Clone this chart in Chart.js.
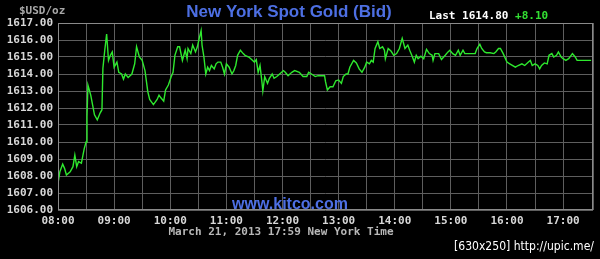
<!DOCTYPE html>
<html>
<head>
<meta charset="utf-8">
<script src="https://cdn.jsdelivr.net/npm/chart.js@4.4.0/dist/chart.umd.min.js"></script>
<style>
  html, body { margin: 0; padding: 0; background: #000; }
  #wrap { width: 600px; height: 259px; }
</style>
</head>
<body>
<div id="wrap"><canvas id="goldChart" width="600" height="259"></canvas></div>
<script>
// --------------------
// Data (minutes after 08:00 New York time, bid price)
// --------------------
const priceTimes = [
    0, 2, 5, 7, 9, 13, 16, 18, 20, 22, 25, 28, 30, 31, 32, 35, 39, 42, 45, 47,
    48, 50, 52, 54, 56, 58, 60, 63, 65, 68, 70, 72, 75, 79, 82, 84, 87, 90, 93, 96,
    98, 102, 106, 108, 110, 113, 115, 118, 121, 123, 125, 128, 130, 133, 136, 138, 139, 142, 144, 147,
    149, 151, 153, 154, 156, 158, 160, 162, 164, 167, 169, 171, 174, 176, 178, 180, 183, 186, 188, 190,
    192, 195, 198, 200, 204, 207, 210, 212, 214, 216, 218, 219, 221, 224, 226, 229, 231, 234, 237, 241,
    243, 246, 250, 253, 258, 262, 266, 268, 271, 275, 278, 282, 285, 286, 288, 291, 294, 297, 300, 303,
    305, 308, 310, 312, 316, 319, 322, 325, 328, 330, 333, 335, 337, 339, 342, 344, 347, 349, 350, 353,
    356, 359, 362, 365, 368, 371, 374, 376, 379, 381, 383, 385, 388, 391, 394, 397, 400, 401, 403, 407,
    410, 414, 417, 419, 422, 425, 428, 430, 433, 435, 439, 442, 446, 448, 451, 453, 456, 458, 462, 466,
    468, 471, 473, 476, 480, 483, 489, 492, 496, 499, 503, 505, 507, 510, 513, 515, 517, 520, 523, 525,
    528, 530, 533, 535, 538, 540, 543, 546, 548, 550, 553, 555, 558, 570
];
const priceValues = [
    1607.57, 1608.25, 1608.70, 1608.45, 1608.06, 1608.25, 1608.55, 1609.23, 1608.55, 1608.85,
    1608.75, 1609.60, 1610.00, 1611.50, 1613.35, 1612.76, 1611.60, 1611.30, 1611.70, 1611.90,
    1614.33, 1615.40, 1616.35, 1614.80, 1615.10, 1615.30, 1614.40, 1614.70, 1614.10, 1614.00,
    1613.70, 1614.00, 1613.80, 1614.00, 1614.60, 1615.60, 1615.00, 1614.80, 1614.20, 1612.96,
    1612.50, 1612.20, 1612.50, 1612.76, 1612.60, 1612.40, 1613.06, 1613.35, 1613.84, 1614.10,
    1615.10, 1615.60, 1615.60, 1614.80, 1615.40, 1614.90, 1615.50, 1615.20, 1615.70, 1615.30,
    1615.60, 1616.10, 1616.55, 1615.70, 1615.00, 1614.00, 1614.40, 1614.20, 1614.50, 1614.30,
    1614.60, 1614.70, 1614.70, 1614.40, 1614.00, 1614.60, 1614.40, 1614.00, 1614.20, 1614.50,
    1615.10, 1615.40, 1615.20, 1615.10, 1615.00, 1614.85, 1614.70, 1614.85, 1614.10, 1614.50,
    1613.55, 1613.00, 1613.84, 1613.45, 1613.75, 1614.00, 1613.75, 1613.85, 1614.00, 1614.20,
    1614.10, 1613.90, 1614.10, 1614.20, 1614.10, 1613.85, 1613.85, 1614.10, 1614.00, 1613.85,
    1613.90, 1613.90, 1613.90, 1613.55, 1613.06, 1613.25, 1613.25, 1613.60, 1613.65, 1613.45,
    1613.85, 1614.00, 1614.00, 1614.40, 1614.80, 1614.65, 1614.30, 1614.10, 1614.40, 1614.70,
    1614.60, 1614.80, 1614.70, 1615.50, 1615.90, 1615.50, 1615.60, 1615.40, 1614.90, 1615.50,
    1615.35, 1615.10, 1615.20, 1615.50, 1616.10, 1615.50, 1615.70, 1615.40, 1615.00, 1614.70,
    1615.10, 1614.90, 1615.05, 1614.90, 1615.45, 1615.20, 1615.10, 1614.80, 1615.20, 1615.20,
    1614.85, 1615.10, 1615.30, 1615.40, 1615.20, 1615.10, 1615.40, 1615.10, 1615.40, 1615.20,
    1615.20, 1615.20, 1615.20, 1615.50, 1615.75, 1615.50, 1615.30, 1615.25, 1615.25, 1615.20,
    1615.30, 1615.50, 1615.50, 1615.20, 1614.70, 1614.60, 1614.40, 1614.50, 1614.60, 1614.50,
    1614.70, 1614.80, 1614.50, 1614.60, 1614.50, 1614.30, 1614.50, 1614.65, 1614.60, 1615.10,
    1615.20, 1615.00, 1615.10, 1615.30, 1615.00, 1614.90, 1614.80, 1614.90, 1615.05, 1615.20,
    1615.00, 1614.80, 1614.80, 1614.80
];
const hourLabels = ['08:00', '09:00', '10:00', '11:00', '12:00', '13:00', '14:00', '15:00', '16:00', '17:00'];
const lastPrice = '1614.80';
const change = '+8.10';

const monoFont = '"DejaVu Sans Mono", "Liberation Mono", monospace';

// --------------------
// Plugins: background, frame and captions
// --------------------
const backdrop = {
    id: 'backdrop',
    beforeDraw(chart) {
        const ctx = chart.ctx;
        ctx.save();
        ctx.fillStyle = '#000';
        ctx.fillRect(0, 0, chart.width, chart.height);
        ctx.restore();
    }
};

const captions = {
    id: 'captions',
    afterDraw(chart) {
        const ctx = chart.ctx;
        const a = chart.chartArea;
        ctx.save();

        // frame round plot area
        ctx.strokeStyle = '#8a8a8a';
        ctx.lineWidth = 1;
        ctx.strokeRect(a.left + 0.5, a.top + 0.5, a.right - a.left - 1, a.bottom - a.top - 1);

        ctx.textBaseline = 'middle';

        // title
        ctx.font = 'bold 17px "Liberation Sans", Arial, sans-serif';
        ctx.fillStyle = '#4d6fe3';
        ctx.textAlign = 'center';
        ctx.fillText('New York Spot Gold (Bid)', 289, 12, 213);

        // unit
        ctx.font = 'bold 11px ' + monoFont;
        ctx.fillStyle = '#a8a8a8';
        ctx.textAlign = 'left';
        ctx.fillText('$USD/oz', 19, 11);

        // last price
        ctx.fillStyle = '#ffffff';
        const lastText = 'Last ' + lastPrice + ' ';
        ctx.fillText(lastText, 429, 16);
        ctx.fillStyle = '#33e033';
        ctx.fillText(change, 429 + ctx.measureText(lastText).width, 16);

        // date line
        ctx.fillStyle = '#b8b8b8';
        ctx.textAlign = 'center';
        ctx.fillText('March 21, 2013 17:59 New York Time', 281, 232);

        // site
        ctx.font = 'bold 16px "Liberation Sans", Arial, sans-serif';
        ctx.fillStyle = '#4d6fe3';
        ctx.textBaseline = 'alphabetic';
        ctx.fillText('www.kitco.com', 290, 209, 127);

        // watermark
        ctx.textBaseline = 'middle';
        ctx.font = '13px "Liberation Sans Narrow", "DejaVu Sans Condensed", sans-serif';
        ctx.fillStyle = '#ffffff';
        ctx.textAlign = 'right';
        ctx.fillText('[630x250] http://upic.me/', 594, 247, 140);

        ctx.restore();
    }
};

// --------------------
// Render Chart
// --------------------
const ctx = document.getElementById('goldChart').getContext('2d');
new Chart(ctx, {
    type: 'line',
    data: {
        datasets: [{
            label: 'Spot Gold (Bid)',
            data: priceTimes.map((t, i) => ({ x: t, y: priceValues[i] })),
            borderColor: '#2ee82e',
            borderWidth: 1.4,
            pointRadius: 0,
            tension: 0
        }]
    },
    options: {
        responsive: false,
        animation: false,
        layout: { padding: { top: 23, right: 7, left: 0, bottom: 0 } },
        plugins: { legend: { display: false }, tooltip: { enabled: false } },
        scales: {
            x: {
                type: 'linear',
                min: 0,
                max: 572,
                afterFit: s => { s.height = 49; },
                grid: { color: '#5e5e5e', drawTicks: false },
                border: { display: false },
                ticks: {
                    stepSize: 30,
                    autoSkip: false,
                    maxRotation: 0,
                    padding: 5,
                    color: '#d8d8d8',
                    font: { family: monoFont, size: 11, weight: 'bold' },
                    callback: v => (v % 60 === 0 ? hourLabels[v / 60] : '')
                }
            },
            y: {
                min: 1606,
                max: 1617,
                afterFit: s => { s.width = 58; },
                grid: { color: '#5e5e5e', drawTicks: false },
                border: { display: false },
                ticks: {
                    stepSize: 1,
                    padding: 5,
                    color: '#d8d8d8',
                    font: { family: monoFont, size: 11, weight: 'bold' },
                    callback: v => v.toFixed(2)
                }
            }
        }
    },
    plugins: [backdrop, captions]
});
</script>
</body>
</html>
